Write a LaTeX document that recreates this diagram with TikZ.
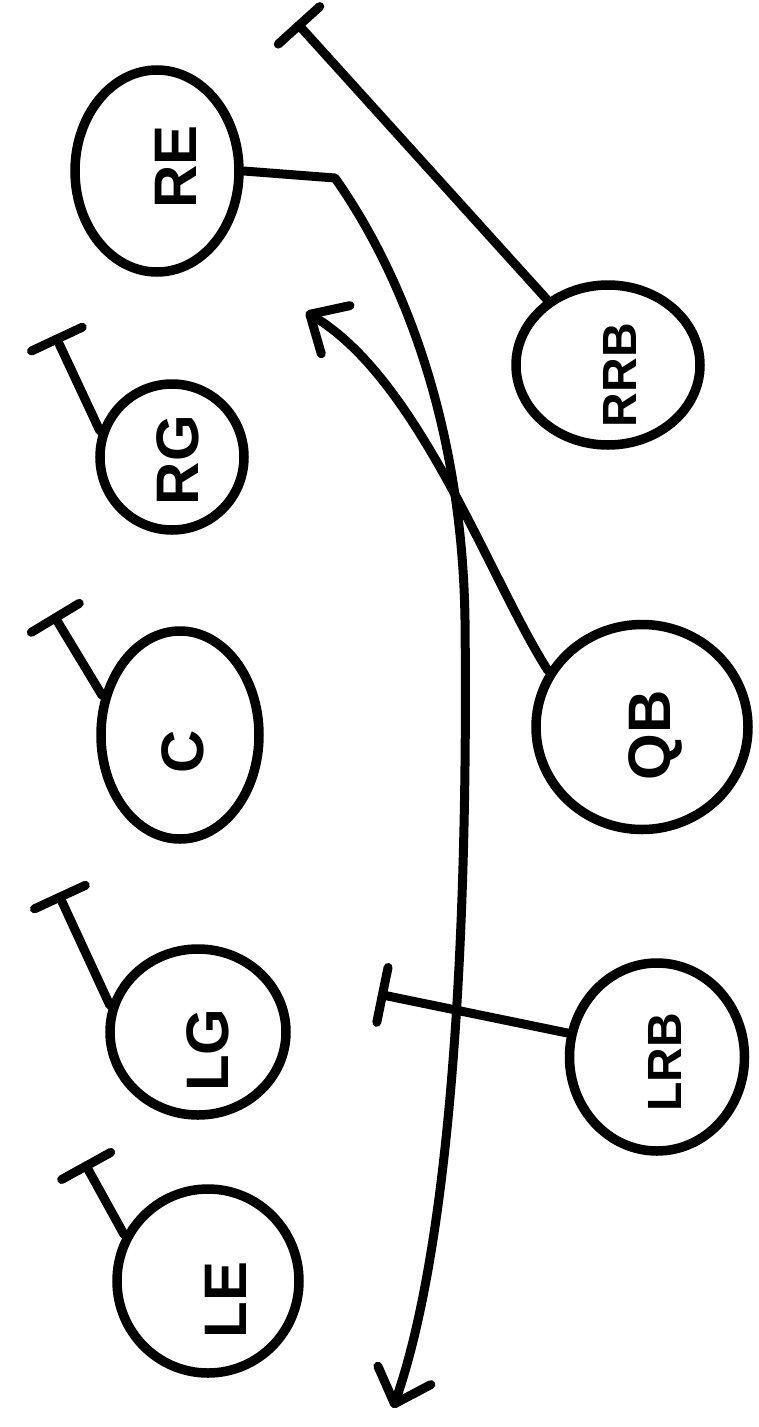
\documentclass[tikz,border=0pt]{standalone}
\usepackage{fontspec}
\setsansfont{Liberation Sans}
\usetikzlibrary{arrows.meta,shapes.geometric}
\begin{document}
\begin{tikzpicture}[x=1pt,y=-1pt,
  player/.style={draw=black,line width=9.5pt,ellipse,inner sep=0pt},
  lbl/.style={rotate=90,inner sep=0pt,font=\sffamily\bfseries\fontsize{60}{60}\selectfont},
  lblsm/.style={rotate=90,inner sep=0pt,font=\sffamily\bfseries\fontsize{48}{48}\selectfont},
  route/.style={line width=9pt,line cap=round,line join=round},
  blockend/.style={-{Bar[width=56pt,line width=9pt,round]}},
  runarrow/.style={-{Straight Barb[length=30pt,width=56pt,line width=9pt,round]}}
]
\useasboundingbox[fill=white] (0,0) rectangle (759,1427);

% offensive players (ellipses)
\node[player,minimum width=164pt,minimum height=202pt] (RE)  at (157,171)  {};
\node[player,minimum width=144pt,minimum height=146pt] (RG)  at (172,457)  {};
\node[player,minimum width=158pt,minimum height=208pt] (C)   at (180,735)  {};
\node[player,minimum width=176pt,minimum height=166pt] (LG)  at (198,1032) {};
\node[player,minimum width=182pt,minimum height=184pt] (LE)  at (208,1281) {};
\node[player,minimum width=184pt,minimum height=160pt] (RRB) at (608,365)  {};
\node[player,minimum width=212pt,minimum height=205pt] (QB)  at (642,727)  {};
\node[player,minimum width=175pt,minimum height=188pt] (LRB) at (657,1057) {};

% labels
\node[lbl]   (REl)  at (176,167)  {RE};
\node[lbl]   (RGl)  at (178,460)  {RG};
\node[lbl]   (Cl)   at (183,752)  {C};
\node[lbl]   (LGl)  at (208,1050) {LG};
\node[lbl]   (LEl)  at (226,1300) {LE};
\node[lblsm] (RRBl) at (620,375)  {RRB};
\node[lbl]   (QBl)  at (655,735)  {QB};
\node[lblsm] (LRBl) at (665,1062) {LRB};

% free ends
\coordinate (rgEnd)  at (55,335);
\coordinate (cEnd)   at (53,614);
\coordinate (lgEnd)  at (58,893);
\coordinate (leEnd)  at (84,1162);
\coordinate (lrbEnd) at (378,994);
\coordinate (rrbEnd) at (296,22);
\coordinate (qbEnd)  at (306,312);
\coordinate (reK)    at (335,178);
\coordinate (reM)    at (465,620);
\coordinate (reEnd)  at (393,1408);

% blocks
\draw[route,blockend] (RG.160)  -- (rgEnd);
\draw[route,blockend] (C.153)   -- (cEnd);
\draw[route,blockend] (LG.163)  -- (lgEnd);
\draw[route,blockend] (LE.151)  -- (leEnd);
\draw[route,blockend] (LRB.165) -- (lrbEnd);
\draw[route,blockend] (RRB.133) -- (rrbEnd);

% routes
\draw[route,runarrow] (QB.149) .. controls (490,580) and (420,380) .. (qbEnd);
\draw[route,runarrow] (RE.east) -- (reK) .. controls (400,270) and (462,420) .. (reM)
   .. controls (468,900) and (455,1230) .. (reEnd);
\end{tikzpicture}
\end{document}
